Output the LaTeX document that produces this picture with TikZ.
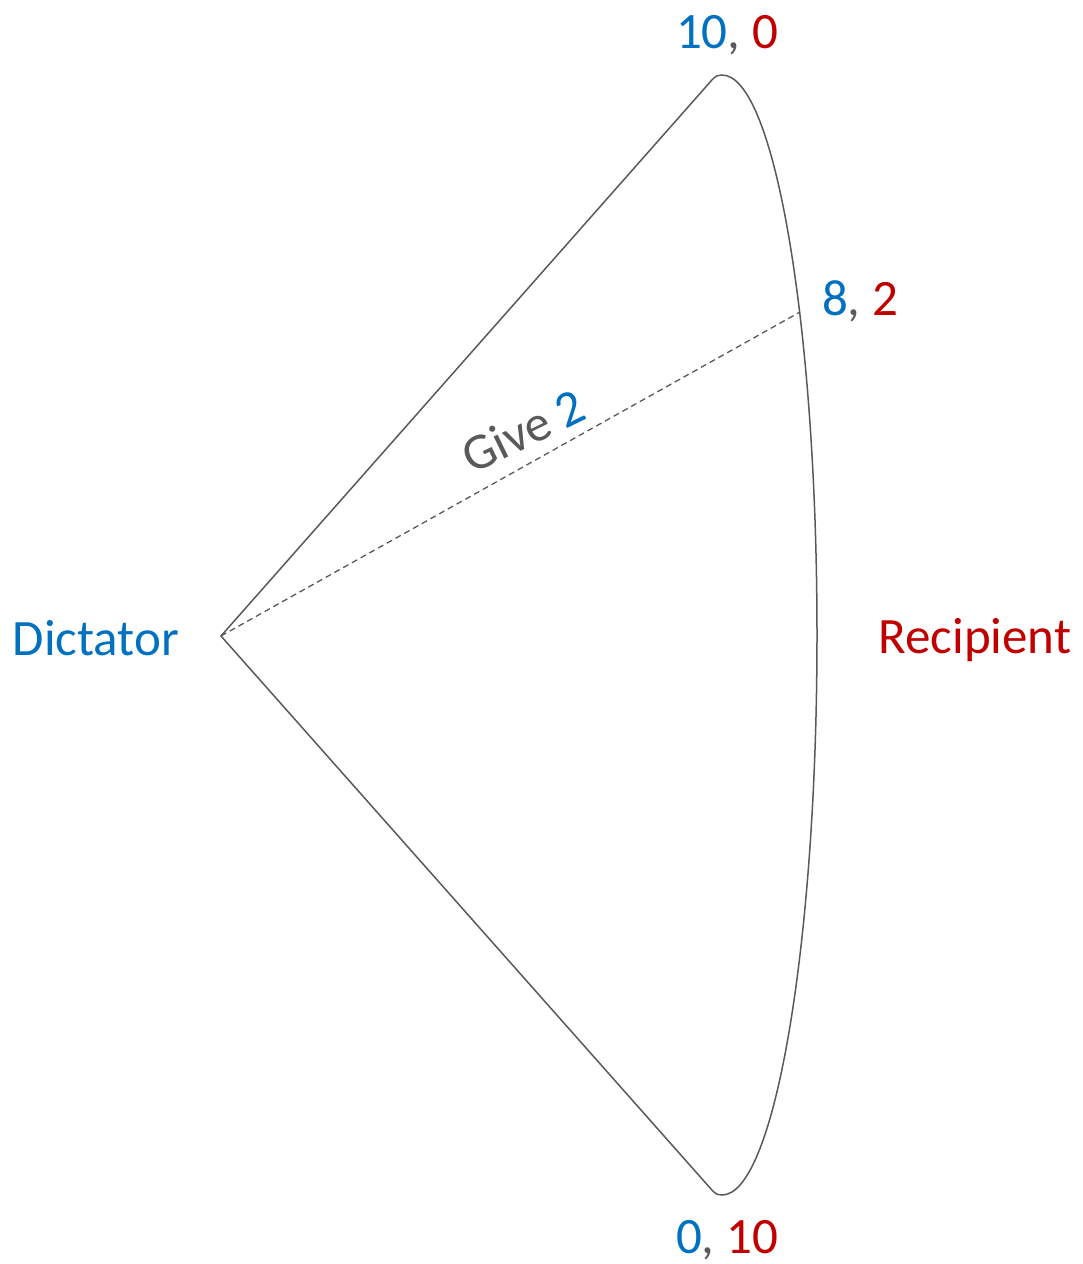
\documentclass[tikz,border=0pt]{standalone}
\usepackage{fontspec}
\setmainfont{Carlito}
\definecolor{cblue}{HTML}{0070C0}
\definecolor{cred}{HTML}{C00000}
\definecolor{cgray}{HTML}{595959}
\begin{document}
\begin{tikzpicture}[x=1pt,y=-1pt,
  lbl/.style={anchor=base,inner sep=0pt,font=\fontsize{51}{60}\selectfont},
  edge/.style={draw=cgray,line width=1.5pt},
  dashline/.style={draw=cgray,line width=1.3pt,dash pattern=on 6pt off 4pt}]
\useasboundingbox (0,0) rectangle (1083,1264);
\coordinate (D) at (221,636);
\coordinate (T) at (711,81);
\coordinate (B) at (711,1189);
\coordinate (P) at (800,312);
% outline
\path[edge] (D) -- (T) .. controls (716,75) and (719,75) .. (722,75)
  arc[start angle=-90,end angle=90,x radius=95,y radius=560]
  .. controls (719,1195) and (716,1195) .. (B) -- cycle;
\draw[dashline] (D) -- (P);
% labels
\node[lbl] (ltop) at (727,48) {\textcolor{cblue}{10}\textcolor{cgray}{,} \textcolor{cred}{0}};
\node[lbl] (lmid) at (860,315) {\textcolor{cblue}{8}\textcolor{cgray}{,} \textcolor{cred}{2}};
\node[lbl] (lbot) at (727,1253) {\textcolor{cblue}{0}\textcolor{cgray}{,} \textcolor{cred}{10}};
\node[lbl,text=cblue] (ldict) at (96,655) {Dictator};
\node[lbl,text=cred] (lrec) at (975,653) {Recipient};
\node[lbl,rotate=26] (lgive) at (531,446) {\textcolor{cgray}{Give} \textcolor{cblue}{2}};
\end{tikzpicture}
\end{document}
